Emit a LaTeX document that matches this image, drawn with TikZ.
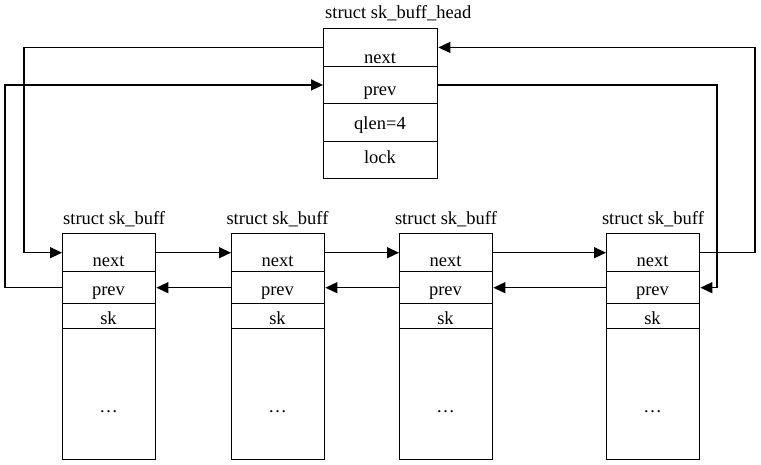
\documentclass[tikz,border=0pt]{standalone}
\usepackage{fontspec}
\setmainfont{Liberation Serif}
\usetikzlibrary{arrows.meta}
\begin{document}
\begin{tikzpicture}[x=1pt,y=-1pt,
  every node/.style={font=\fontsize{18.5}{20}\selectfont},
  field/.style={draw,line width=1.4pt,inner sep=0pt,anchor=north west},
  lbl/.style={anchor=base,inner sep=0pt},
  link/.style={line width=1.5pt,-{Triangle[length=12pt,width=11pt]}}]
\useasboundingbox (0,0) rectangle (761,464);

% queue head
\node[field,minimum width=114pt,minimum height=37.5pt] (hnext) at (323,28) {};
\node[field,minimum width=114pt,minimum height=37.5pt] (hprev) at (323,65.5) {};
\node[field,minimum width=114pt,minimum height=37.5pt] (hqlen) at (323,103) {};
\node[field,minimum width=114pt,minimum height=37.5pt] (hlock) at (323,140.5) {};
\node[anchor=base west,inner sep=0pt] (htitle) at (325,18.5) {struct sk\_buff\_head};
\node[lbl] (tnext) at (380,63.5) {next};
\node[lbl] (tprev) at (380,95.5) {prev};
\node[lbl] (tqlen) at (380,129) {qlen=4};
\node[lbl] (tlock) at (380,163) {lock};

% the four buffers
\foreach \i/\x in {1/62,2/231,3/399,4/606}{
  \node[field,minimum width=93pt,minimum height=38pt] (b\i next) at (\x,233) {};
  \node[field,minimum width=93pt,minimum height=32pt] (b\i prev) at (\x,271) {};
  \node[field,minimum width=93pt,minimum height=25pt] (b\i sk) at (\x,303) {};
  \node[field,minimum width=93pt,minimum height=131pt] (b\i rest) at (\x,328) {};
  \node[lbl] (b\i tnext) at (\x+46.5,266.5) {next};
  \node[lbl] (b\i tprev) at (\x+46.5,295.5) {prev};
  \node[lbl] (b\i tsk) at (\x+46.5,324) {sk};
  \node[lbl] (b\i tdots) at (\x+46.5,412) {…};
}
\node[anchor=base west,inner sep=0pt] (b1title) at (63,224) {struct sk\_buff};
\node[lbl] (b2title) at (277.5,224) {struct sk\_buff};
\node[lbl] (b3title) at (446,224) {struct sk\_buff};
\node[lbl] (b4title) at (653,224) {struct sk\_buff};

% routing columns
\coordinate (lx1) at (24,0);
\coordinate (lx2) at (5,0);
\coordinate (rx1) at (755,0);
\coordinate (rx2) at (717,0);

% forward links
\draw[link] (hnext.west) -| (lx1 |- b1next.west) -- (b1next.west);
\draw[link] (b1next.east) -- (b2next.west);
\draw[link] (b2next.east) -- (b3next.west);
\draw[link] (b3next.east) -- (b4next.west);
\draw[link] (b4next.east) -- (rx1 |- b4next.east) |- (hnext.east);

% backward links
\draw[link] (b1prev.west) -- (lx2 |- b1prev.west) |- (hprev.west);
\draw[link] (b2prev.west) -- (b1prev.east);
\draw[link] (b3prev.west) -- (b2prev.east);
\draw[link] (b4prev.west) -- (b3prev.east);
\draw[link] (hprev.east) -| (rx2 |- b4prev.east) -- (b4prev.east);
\end{tikzpicture}
\end{document}
